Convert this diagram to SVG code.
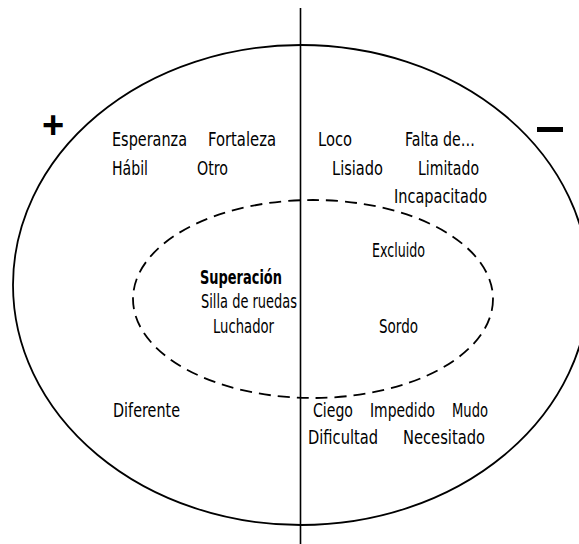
<svg xmlns="http://www.w3.org/2000/svg" width="579" height="544" viewBox="0 0 579 544">
<style>
.t{font-family:"Liberation Sans Narrow","DejaVu Sans Condensed","Liberation Sans",sans-serif;font-size:19px;fill:#000}
.b{font-weight:bold}
.sign{font-family:"Liberation Sans",sans-serif;font-weight:bold;fill:#000}
</style>
<rect width="579" height="544" fill="#fff"/>
<g id="connectors">
<ellipse id="outer" cx="301" cy="285" rx="288" ry="240" fill="none" stroke="#000" stroke-width="1.8"/>
<ellipse id="inner" cx="313" cy="299" rx="180" ry="99" fill="none" stroke="#000" stroke-width="1.8" stroke-dasharray="12 7"/>
<line x1="300.5" y1="8" x2="300.5" y2="544" stroke="#000" stroke-width="1.6"/>
</g>
<g id="signs">
<text class="sign" x="53" y="138" font-size="38" text-anchor="middle">+</text>
<rect x="537" y="127" width="26" height="5" fill="#000"/>
</g>
<g id="positive">
<text class="t" x="112" y="146" textLength="75" lengthAdjust="spacingAndGlyphs">Esperanza</text>
<text class="t" x="208" y="146" textLength="68" lengthAdjust="spacingAndGlyphs">Fortaleza</text>
<text class="t" x="112" y="175" textLength="36" lengthAdjust="spacingAndGlyphs">Hábil</text>
<text class="t" x="197" y="175" textLength="31" lengthAdjust="spacingAndGlyphs">Otro</text>
<text class="t" x="113" y="417" textLength="67" lengthAdjust="spacingAndGlyphs">Diferente</text>
</g>
<g id="negative">
<text class="t" x="318" y="146" textLength="34" lengthAdjust="spacingAndGlyphs">Loco</text>
<text class="t" x="405" y="146" textLength="70" lengthAdjust="spacingAndGlyphs">Falta de…</text>
<text class="t" x="332" y="175" textLength="51" lengthAdjust="spacingAndGlyphs">Lisiado</text>
<text class="t" x="418" y="175" textLength="61" lengthAdjust="spacingAndGlyphs">Limitado</text>
<text class="t" x="394" y="203" textLength="93" lengthAdjust="spacingAndGlyphs">Incapacitado</text>
<text class="t" x="313" y="417" textLength="40" lengthAdjust="spacingAndGlyphs">Ciego</text>
<text class="t" x="370" y="417" textLength="65" lengthAdjust="spacingAndGlyphs">Impedido</text>
<text class="t" x="452" y="417" textLength="36" lengthAdjust="spacingAndGlyphs">Mudo</text>
<text class="t" x="308" y="444" textLength="70" lengthAdjust="spacingAndGlyphs">Dificultad</text>
<text class="t" x="403" y="444" textLength="82" lengthAdjust="spacingAndGlyphs">Necesitado</text>
</g>
<g id="inner-positive">
<text class="t b" x="200" y="284" textLength="82" lengthAdjust="spacingAndGlyphs">Superación</text>
<text class="t" x="201" y="308" textLength="96" lengthAdjust="spacingAndGlyphs">Silla de ruedas</text>
<text class="t" x="213" y="333" textLength="61" lengthAdjust="spacingAndGlyphs">Luchador</text>
</g>
<g id="inner-negative">
<text class="t" x="372" y="257" textLength="53" lengthAdjust="spacingAndGlyphs">Excluido</text>
<text class="t" x="379" y="333" textLength="39" lengthAdjust="spacingAndGlyphs">Sordo</text>
</g>
</svg>
